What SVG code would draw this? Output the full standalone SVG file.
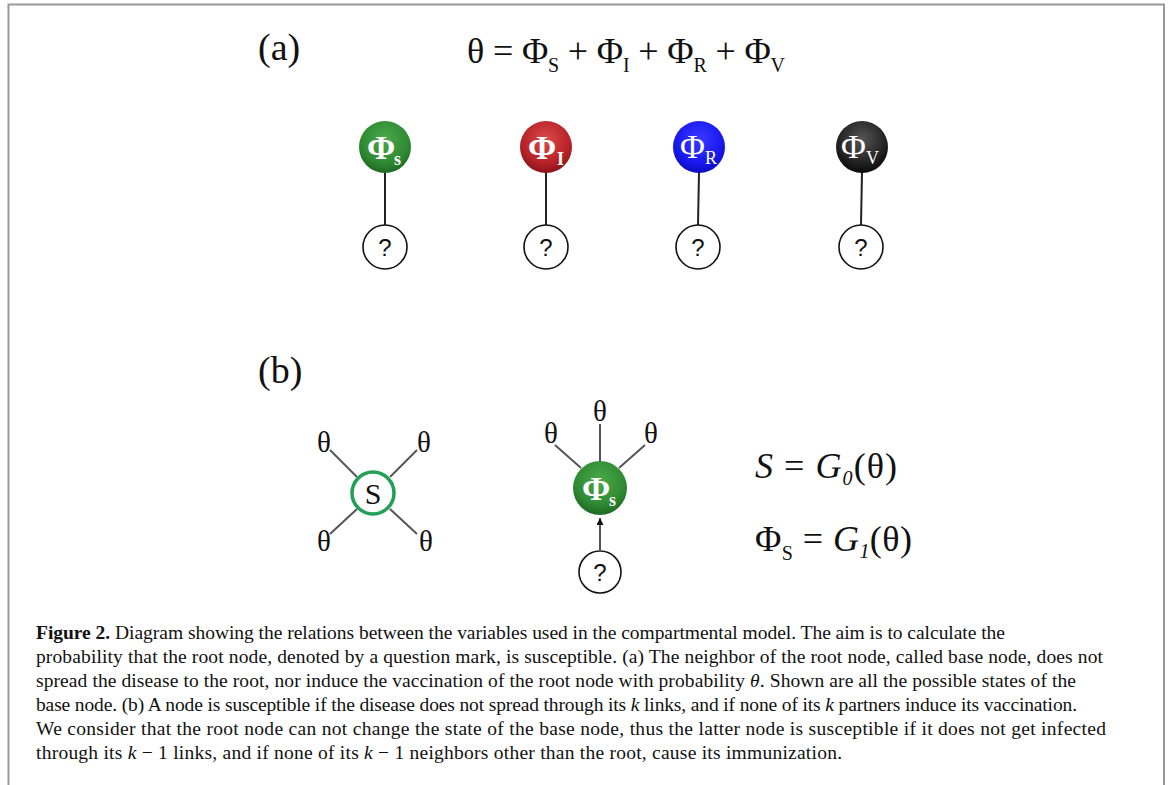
<svg xmlns="http://www.w3.org/2000/svg" width="1168" height="785" viewBox="0 0 1168 785">
<defs>
<radialGradient id="gG" cx="50%" cy="35%" r="65%"><stop offset="0" stop-color="#4aa84a"/><stop offset="0.7" stop-color="#2f8a33"/><stop offset="1" stop-color="#1d6a22"/></radialGradient>
<radialGradient id="gR" cx="50%" cy="35%" r="65%"><stop offset="0" stop-color="#d94a4a"/><stop offset="0.7" stop-color="#b82228"/><stop offset="1" stop-color="#8a1418"/></radialGradient>
<radialGradient id="gB" cx="50%" cy="35%" r="65%"><stop offset="0" stop-color="#3a3aff"/><stop offset="0.7" stop-color="#1818f0"/><stop offset="1" stop-color="#0c0cc0"/></radialGradient>
<radialGradient id="gK" cx="50%" cy="35%" r="65%"><stop offset="0" stop-color="#555"/><stop offset="0.7" stop-color="#222"/><stop offset="1" stop-color="#0a0a0a"/></radialGradient>
<marker id="arr" viewBox="0 0 10 10" refX="10" refY="5" markerWidth="7" markerHeight="7" orient="auto" markerUnits="userSpaceOnUse"><path d="M0,0 L10,5 L0,10 z" fill="#111"/></marker>
</defs>
<style>
.serif{font-family:"Liberation Serif","Times New Roman",serif;}
.lbl{font-family:"Liberation Serif",serif;font-size:38px;fill:#111;}
.eq{font-family:"Liberation Serif",serif;font-size:36px;fill:#111;}
.sub{font-size:20px;}
.q{fill:#fff;stroke:#111;stroke-width:1.6;}
.qt{font-family:"Liberation Sans",Arial,sans-serif;font-size:24px;fill:#111;text-anchor:middle;}
.ph{font-family:"Liberation Serif",serif;font-size:34px;fill:#fff;}
.phs{font-family:"Liberation Serif",serif;font-size:18px;fill:#fff;}
.ln{stroke:#222;stroke-width:2;fill:none;}
.gl{stroke:#555;stroke-width:2;fill:none;}
.th{font-family:"Liberation Serif",serif;font-size:29px;fill:#111;text-anchor:middle;}
.cap{font-family:"Liberation Serif","Times New Roman",serif;font-size:19.5px;fill:#111;}
</style>
<rect width="1168" height="785" fill="#fff"/>
<path d="M8.5,785 V4.5 H1164 V785" fill="none" stroke="#999" stroke-width="2"/>

<text class="lbl" x="258" y="60">(a)</text>
<text class="eq" x="467" y="63" textLength="318" lengthAdjust="spacing">θ = Φ<tspan class="sub" dy="9">S</tspan><tspan dy="-9"> + Φ</tspan><tspan class="sub" dy="9">I</tspan><tspan dy="-9"> + Φ</tspan><tspan class="sub" dy="9">R</tspan><tspan dy="-9"> + Φ</tspan><tspan class="sub" dy="9">V</tspan></text>

<g id="connectors">
<line class="ln" x1="385" y1="172" x2="385" y2="225"/>
<line class="ln" x1="546" y1="172" x2="546" y2="225"/>
<line class="ln" x1="699" y1="172" x2="698" y2="225"/>
<line class="ln" x1="862" y1="172" x2="861" y2="225"/>
<line class="gl" x1="330" y1="450" x2="357" y2="477"/>
<line class="gl" x1="417" y1="450" x2="390" y2="477"/>
<line class="gl" x1="330" y1="534" x2="357" y2="509"/>
<line class="gl" x1="417" y1="534" x2="390" y2="509"/>
<line class="gl" x1="600" y1="424" x2="600" y2="461"/>
<line class="gl" x1="555" y1="445" x2="581" y2="468"/>
<line class="gl" x1="645" y1="445" x2="619" y2="468"/>
<line class="gl" x1="600" y1="550" x2="600" y2="518" marker-end="url(#arr)"/>
</g>

<g id="nodeS_a"><circle cx="385" cy="147" r="26" fill="url(#gG)"/><text class="ph" x="367" y="159" font-weight="bold">Φ</text><text class="phs" x="394" y="165" font-weight="bold">s</text></g>
<g id="nodeI_a"><circle cx="546" cy="147" r="26" fill="url(#gR)"/><text class="ph" x="528" y="159" font-weight="bold">Φ</text><text class="phs" x="557" y="165" font-weight="bold">I</text></g>
<g id="nodeR_a"><circle cx="699" cy="147" r="26" fill="url(#gB)"/><text class="ph" x="680" y="158">Φ</text><text class="phs" x="705" y="164">R</text></g>
<g id="nodeV_a"><circle cx="862" cy="147" r="26" fill="url(#gK)"/><text class="ph" x="841" y="158">Φ</text><text class="phs" x="866" y="164">V</text></g>

<g id="q1"><circle class="q" cx="385" cy="247" r="22"/><text class="qt" x="385" y="256">?</text></g>
<g id="q2"><circle class="q" cx="546" cy="247" r="22"/><text class="qt" x="546" y="256">?</text></g>
<g id="q3"><circle class="q" cx="698" cy="247" r="22"/><text class="qt" x="698" y="256">?</text></g>
<g id="q4"><circle class="q" cx="861" cy="247" r="22"/><text class="qt" x="861" y="256">?</text></g>

<text class="lbl" x="258" y="383">(b)</text>

<g id="nodeS_b"><circle cx="373" cy="493" r="21" fill="#fff" stroke="#22a055" stroke-width="3.5"/><text class="serif" x="373" y="504" font-size="30" text-anchor="middle" fill="#111">S</text></g>
<g id="thetas_left">
<text class="th" x="324" y="452">θ</text>
<text class="th" x="424" y="452">θ</text>
<text class="th" x="324" y="551">θ</text>
<text class="th" x="426" y="551">θ</text>
</g>

<g id="nodePhi_b"><circle cx="600" cy="488" r="27" fill="url(#gG)"/><text class="ph" x="582" y="500" font-weight="bold">Φ</text><text class="phs" x="609" y="506" font-weight="bold">s</text></g>
<g id="thetas_mid">
<text class="th" x="600" y="421">θ</text>
<text class="th" x="551" y="443">θ</text>
<text class="th" x="651" y="443">θ</text>
</g>
<g id="q5"><circle class="q" cx="600" cy="572" r="21"/><text class="qt" x="600" y="581">?</text></g>

<g id="eqs">
<text class="eq" x="755" y="478" textLength="142" lengthAdjust="spacing"><tspan font-style="italic">S</tspan> = <tspan font-style="italic">G</tspan><tspan class="sub" font-style="italic" dy="7">0</tspan><tspan dy="-7">(θ)</tspan></text>
<text class="eq" x="755" y="551" textLength="157" lengthAdjust="spacing">Φ<tspan class="sub" dy="9">S</tspan><tspan dy="-9"> = </tspan><tspan font-style="italic">G</tspan><tspan class="sub" font-style="italic" dy="7">1</tspan><tspan dy="-7">(θ)</tspan></text>
</g>

<g id="caption" class="cap">
<text x="36" y="639" textLength="969" lengthAdjust="spacing"><tspan font-weight="bold">Figure 2.</tspan> Diagram showing the relations between the variables used in the compartmental model. The aim is to calculate the</text>
<text x="36" y="663" textLength="1067" lengthAdjust="spacing">probability that the root node, denoted by a question mark, is susceptible. (a) The neighbor of the root node, called base node, does not</text>
<text x="36" y="687" textLength="1040" lengthAdjust="spacing">spread the disease to the root, nor induce the vaccination of the root node with probability <tspan font-style="italic">θ</tspan>. Shown are all the possible states of the</text>
<text x="36" y="711" textLength="1041" lengthAdjust="spacing">base node. (b) A node is susceptible if the disease does not spread through its <tspan font-style="italic">k</tspan> links, and if none of its <tspan font-style="italic">k</tspan> partners induce its vaccination.</text>
<text x="36" y="735" textLength="1070" lengthAdjust="spacing">We consider that the root node can not change the state of the base node, thus the latter node is susceptible if it does not get infected</text>
<text x="36" y="759" textLength="806" lengthAdjust="spacing">through its <tspan font-style="italic">k</tspan> − 1 links, and if none of its <tspan font-style="italic">k</tspan> − 1 neighbors other than the root, cause its immunization.</text>
</g>
</svg>
